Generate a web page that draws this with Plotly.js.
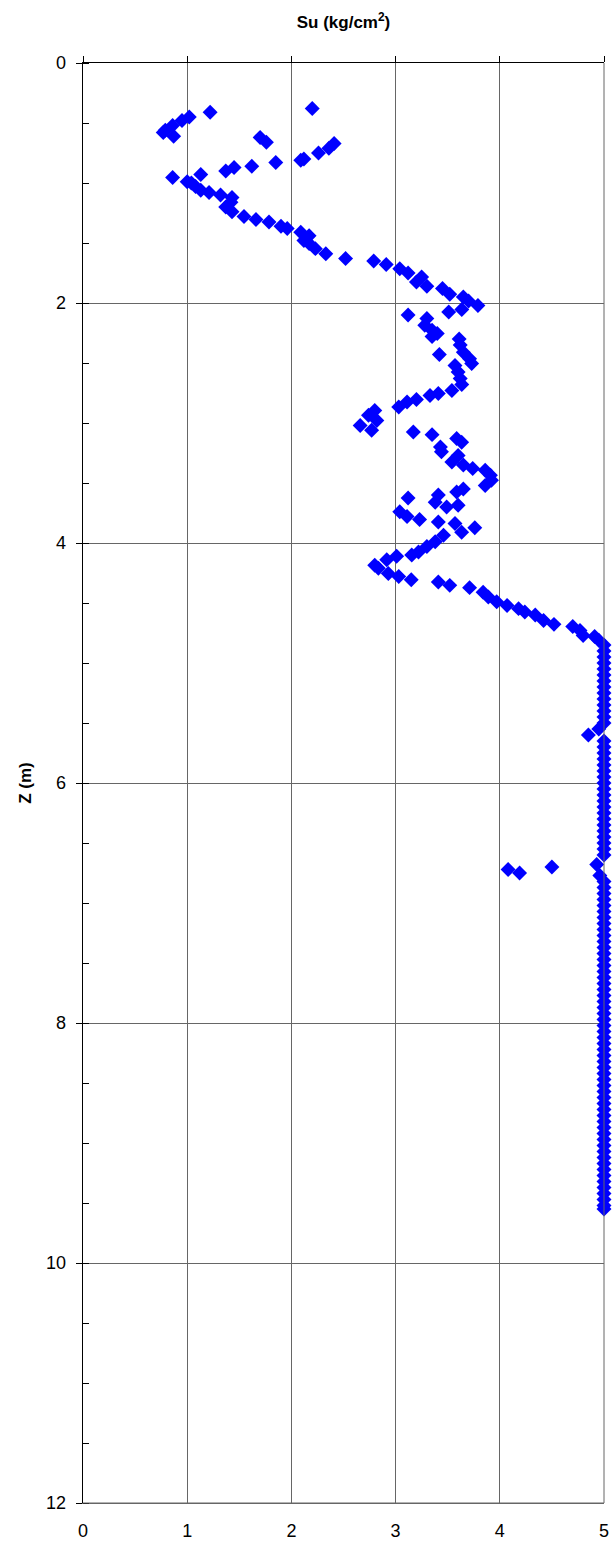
<!DOCTYPE html>
<html>
<head>
<meta charset="utf-8">
<script src="https://cdn.plot.ly/plotly-3.0.1.min.js"></script>
<style>html,body{margin:0;padding:0;background:#fff;}#chart{width:612px;height:1543px;}</style>
</head>
<body>
<div id="chart"></div>
<script>
// Su (kg/cm2) vs depth Z (m): [Su, Z]
const upperPoints = [
 [2.20,0.38],[1.22,0.41],[1.02,0.45],[0.95,0.48],[0.86,0.52],[0.79,0.56],[0.77,0.58],[0.87,0.61],
 [1.70,0.62],[1.76,0.66],[2.41,0.67],[2.36,0.71],[2.26,0.75],[2.12,0.80],[2.09,0.81],[1.85,0.83],
 [1.62,0.86],[1.45,0.87],[1.37,0.90],[1.13,0.93],[0.86,0.955],[1.00,0.99],[1.04,1.00],[1.08,1.03],
 [1.13,1.06],[1.21,1.08],[1.32,1.10],[1.43,1.12],[1.42,1.16],[1.37,1.20],[1.43,1.24],[1.545,1.28],
 [1.66,1.305],[1.785,1.325],[1.90,1.36],[1.96,1.38],[2.09,1.41],[2.17,1.44],[2.12,1.48],[2.17,1.505],
 [2.23,1.547],[2.33,1.59],[2.52,1.63],[2.79,1.65],[2.91,1.68],[3.04,1.714],[3.12,1.75],[3.25,1.783],
 [3.20,1.825],[3.30,1.86],[3.45,1.88],[3.52,1.927],[3.65,1.95],[3.70,1.983],[3.79,2.02],[3.635,2.055],
 [3.51,2.075],[3.12,2.10],[3.30,2.13],[3.28,2.186],[3.35,2.227],[3.40,2.255],[3.35,2.28],[3.61,2.30],
 [3.62,2.35],[3.65,2.41],[3.42,2.43],[3.71,2.464],[3.73,2.505],[3.57,2.52],[3.60,2.575],[3.62,2.63],
 [3.635,2.68],[3.54,2.73],[3.41,2.755],[3.33,2.77],[3.20,2.805],[3.11,2.825],[3.03,2.866],[2.80,2.895],
 [2.74,2.936],[2.82,2.98],[2.66,3.02],[2.77,3.06],[3.17,3.075],[3.35,3.097],[3.586,3.13],[3.634,3.16],
 [3.43,3.20],[3.44,3.24],[3.60,3.27],[3.54,3.325],[3.65,3.35],[3.74,3.38],[3.86,3.394],[3.91,3.436],
 [3.92,3.477],[3.86,3.52],[3.65,3.55],[3.586,3.575],[3.41,3.60],[3.12,3.625],[3.38,3.66],[3.60,3.686],
 [3.49,3.70],[3.04,3.74],[3.11,3.78],[3.23,3.805],[3.41,3.825],[3.57,3.838],[3.76,3.873],[3.634,3.91],
 [3.46,3.935],[3.38,3.99],[3.30,4.03],[3.22,4.075],[3.155,4.10],[3.01,4.11],[2.915,4.14],[2.80,4.186],
 [2.835,4.21],[2.93,4.255],[3.03,4.28],[3.15,4.306],[3.41,4.325],[3.52,4.353],[3.71,4.372],[3.84,4.41],
 [3.89,4.45],[3.97,4.49],[4.07,4.52],[4.18,4.547],[4.24,4.575],[4.34,4.60],[4.42,4.645],[4.52,4.678],
 [4.70,4.695],[4.77,4.73],[4.80,4.77],[4.91,4.78],[4.95,4.81]
];
const columnPoints = [
 [5,4.85],[5,4.90],[5,4.95],[5,5.00],[5,5.05],[5,5.10],[5,5.15],[5,5.20],[5,5.25],[5,5.30],
 [5,5.35],[5,5.40],[5,5.45],[5,5.50],[4.95,5.55],[4.85,5.60],[5,5.65],[5,5.70],[5,5.75],[5,5.80],
 [5,5.85],[5,5.90],[5,5.95],[5,6.00],[5,6.05],[5,6.10],[5,6.15],[5,6.20],[5,6.25],[5,6.30],
 [5,6.35],[5,6.40],[5,6.45],[5,6.50],[5,6.55],[5,6.60],[4.93,6.68],[4.50,6.70],[4.08,6.72],[4.19,6.75],
 [4.96,6.77],[5,6.82],[5,6.87],[5,6.92],[5,6.97],[5,7.02],[5,7.07],[5,7.12],[5,7.17],[5,7.22],
 [5,7.27],[5,7.32],[5,7.37],[5,7.42],[5,7.47],[5,7.52],[5,7.57],[5,7.62],[5,7.67],[5,7.72],
 [5,7.77],[5,7.82],[5,7.87],[5,7.92],[5,7.97],[5,8.02],[5,8.07],[5,8.12],[5,8.17],[5,8.22],
 [5,8.27],[5,8.32],[5,8.37],[5,8.42],[5,8.47],[5,8.52],[5,8.57],[5,8.62],[5,8.67],[5,8.72],
 [5,8.77],[5,8.82],[5,8.87],[5,8.92],[5,8.97],[5,9.02],[5,9.07],[5,9.12],[5,9.17],[5,9.22],
 [5,9.27],[5,9.32],[5,9.37],[5,9.42],[5,9.47],[5,9.52],[5,9.55]
];
const xTickVals = [0,1,2,3,4,5];
const yTickVals = [0,2,4,6,8,10,12];

const allPoints = upperPoints.concat(columnPoints);
const FONT = 'Liberation Sans, Arial, sans-serif';

const traces = [
 {
  type:'scatter', mode:'markers',
  x: allPoints.map(p=>p[0]), y: allPoints.map(p=>p[1]),
  marker:{symbol:'diamond', size:11.5, color:'#0000FF', line:{width:0}},
  cliponaxis:false, showlegend:false, hoverinfo:'x+y'
 },
 {type:'scatter', mode:'markers', x:[], y:[], xaxis:'x2', yaxis:'y', showlegend:false}
];

const layout = {
 width:612, height:1543,
 margin:{l:83, r:8, t:63, b:40, pad:0},
 paper_bgcolor:'#fff', plot_bgcolor:'#fff',
 font:{family:FONT, color:'#000', size:18},
 title:{text:'<b>Su (kg/cm<sup>2</sup>)</b>', font:{family:FONT, size:17, color:'#000'},
        xref:'paper', x:0.5, xanchor:'center', yref:'container', y:1-22/1543, yanchor:'middle'},
 xaxis:{range:[0,5], tickvals:xTickVals, ticktext:xTickVals.map(String),
        showgrid:true, gridcolor:'#666', gridwidth:1, zeroline:false,
        showline:true, linecolor:'#666', linewidth:1, ticks:'', side:'bottom',
        tickfont:{family:FONT, size:18, color:'#000'}, ticklabelstandoff:11, fixedrange:true},
 xaxis2:{range:[0,5], overlaying:'x', side:'top', anchor:'y', tickvals:xTickVals,
        showticklabels:false, ticks:'outside', ticklen:6, tickcolor:'#000', tickwidth:1,
        showline:true, linecolor:'#000', linewidth:1.3, showgrid:false, zeroline:false},
 yaxis:{range:[12,0], tickvals:yTickVals, ticktext:yTickVals.map(String),
        showgrid:true, gridcolor:'#666', gridwidth:1, zeroline:false,
        showline:true, linecolor:'#000', linewidth:1.3,
        ticks:'outside', ticklen:6, tickcolor:'#000', tickwidth:1,
        minor:{dtick:0.5, tick0:0, ticks:'inside', ticklen:6, tickcolor:'#000', showgrid:false},
        tickfont:{family:FONT, size:18, color:'#000'}, ticklabelstandoff:6,
        title:{text:'<b>Z (m)</b>', font:{family:FONT, size:17, color:'#000'}, standoff:10}},
 shapes:[
  {type:'line', xref:'paper', yref:'paper', x0:1, x1:1, y0:0, y1:1, line:{color:'#666', width:1}},
  {type:'line', xref:'paper', yref:'paper', x0:0, x1:1, y0:0, y1:0, line:{color:'#666', width:1}}
 ]
};

Plotly.newPlot('chart', traces, layout, {displayModeBar:false, staticPlot:true});
</script>
</body>
</html>
